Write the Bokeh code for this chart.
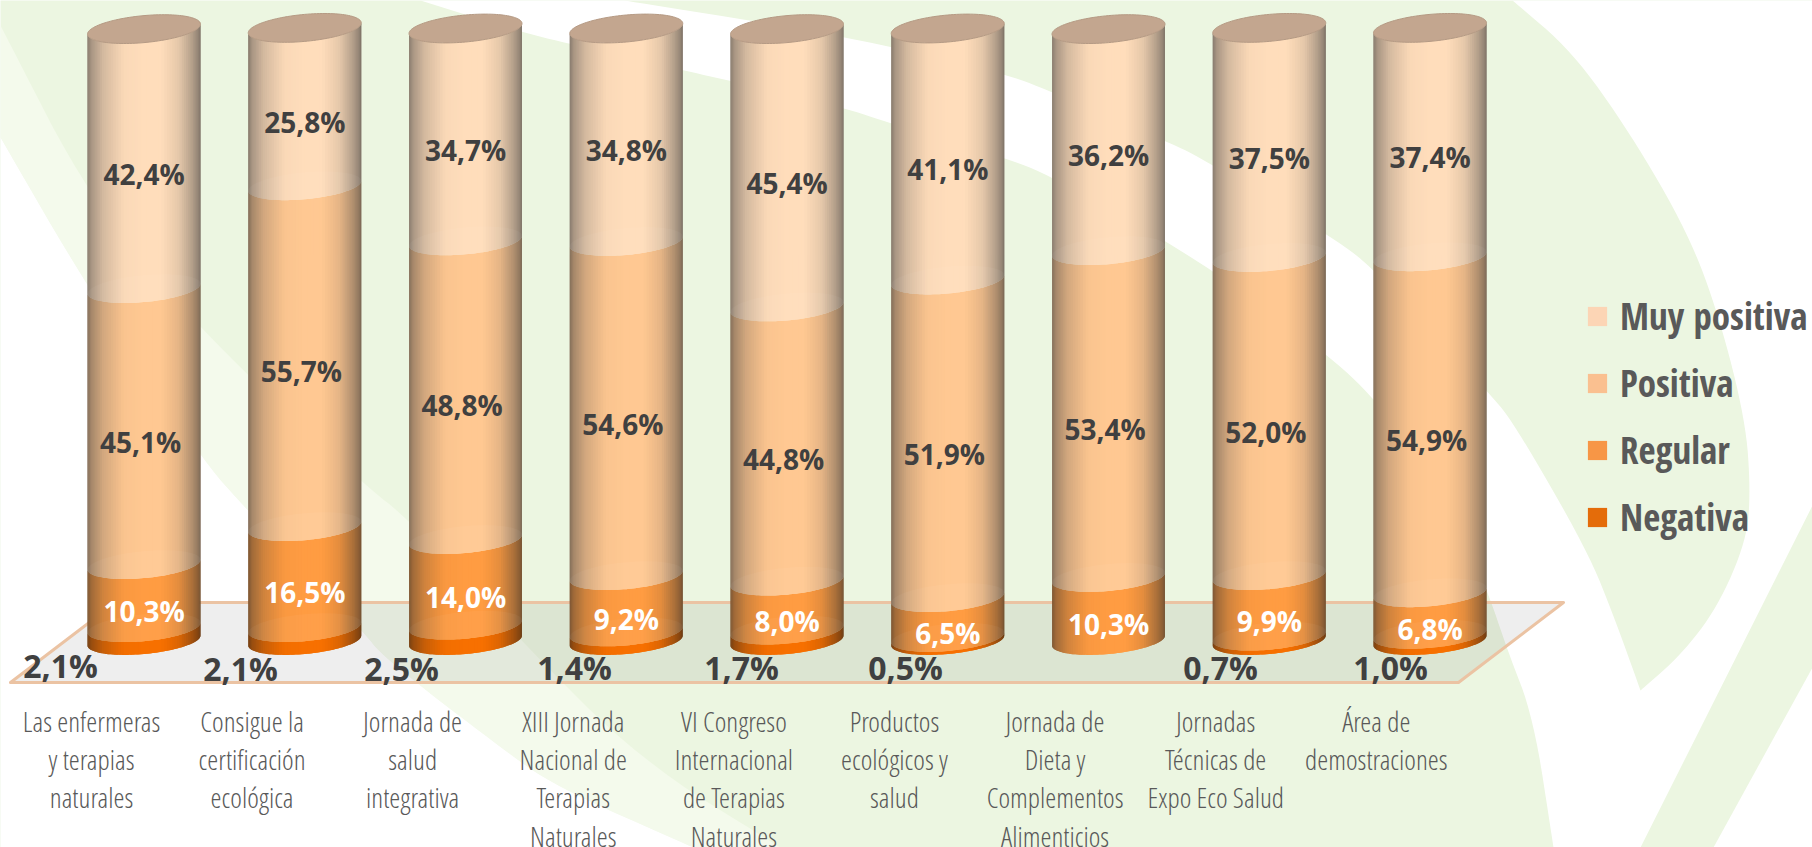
import math
from bokeh.plotting import figure
from bokeh.embed import file_html
from bokeh.resources import INLINE
from bokeh.core.properties import value
from bokeh.models import Range1d, Legend, LegendItem

# ---- data ----
categories = [
    ["Las enfermeras", "y terapias", "naturales"],
    ["Consigue la", "certificación", "ecológica"],
    ["Jornada de", "salud", "integrativa"],
    ["XIII Jornada", "Nacional de", "Terapias", "Naturales"],
    ["VI Congreso", "Internacional", "de Terapias", "Naturales"],
    ["Productos", "ecológicos y", "salud"],
    ["Jornada de", "Dieta y", "Complementos", "Alimenticios"],
    ["Jornadas", "Técnicas de", "Expo Eco Salud"],
    ["Área de", "demostraciones"],
]
negativa = [2.1, 2.1, 2.5, 1.4, 1.7, 0.5, 0.0, 0.7, 1.0]
regular = [10.3, 16.5, 14.0, 9.2, 8.0, 6.5, 10.3, 9.9, 6.8]
positiva = [45.1, 55.7, 48.8, 54.6, 44.8, 51.9, 53.4, 52.0, 54.9]
muy_positiva = [42.4, 25.8, 34.7, 34.8, 45.4, 41.1, 36.2, 37.5, 37.4]
series_names = ["Negativa", "Regular", "Positiva", "Muy positiva"]
series_values = [negativa, regular, positiva, muy_positiva]

# ---- style and layout ----
WIDTH, HEIGHT = 1812, 847
PX_X0, PX_DX, HALF = 143.5, 160.75, 56.5     # cylinder centre / pitch / half width (page px)
PX_Y0, PX_PER_PCT = 640.0, 6.12
TILT, MINOR = 5.0, 13.5
GREEN, PALE = "#ECF6E1", "#F4FAEC"
legend_colors = ["#E46C0A", "#F79646", "#FAC090", "#FCD5B5"]
core_colors = [(247, 112, 0), (255, 156, 66), (255, 200, 146), (255, 221, 187)]
TEXT_DARK, TEXT_AXIS, TEXT_LEGEND = "#404040", "#595959", "#595959"
neg_label_px = [(60, 665), (240, 668), (401, 668), (574, 667), (741, 667), (905, 667), None, (1220, 667), (1390, 667)]


def to_x(px):
    return (px - PX_X0) / PX_DX


def to_y(px):
    return (PX_Y0 - px) / PX_PER_PCT


p = figure(width=WIDTH, height=HEIGHT, output_backend="svg", toolbar_location=None,
           x_range=Range1d(to_x(0), to_x(WIDTH)), y_range=Range1d(to_y(HEIGHT), to_y(0)),
           min_border=0, min_border_left=0, min_border_right=0, min_border_top=0, min_border_bottom=0,
           outline_line_color=None, background_fill_color=GREEN, border_fill_color="white")
p.axis.visible = False
p.grid.visible = False
p.extra_x_ranges["px"] = Range1d(0, WIDTH)
p.extra_y_ranges["px"] = Range1d(HEIGHT, 0)


def smooth(points, rounds=3):
    # corner cutting along an open edge; its two end points stay where they are
    for _ in range(rounds):
        out = [points[0]]
        for (a, b), (c, d) in zip(points, points[1:]):
            out.append((a * .75 + c * .25, b * .75 + d * .25))
            out.append((a * .25 + c * .75, b * .25 + d * .75))
        out.append(points[-1])
        points = out
    return points


def deco(points, color, alpha=1.0, **kw):
    p.patch([a for a, _ in points], [b for _, b in points], fill_color=color, fill_alpha=alpha,
            line_color=None, x_range_name="px", y_range_name="px", **kw)


# background leaf shapes
white_edge = smooth([(0, 137), (87, 287), (200, 457), (247, 510), (362, 630), (383, 657), (500, 747), (555, 786), (693, 847)])
pale_edge = smooth([(0, 25), (90, 200), (200, 330), (362, 483), (410, 520), (520, 640), (640, 760), (780, 847)])
deco(pale_edge + list(reversed(white_edge)), PALE)
deco(white_edge + [(0, 847)], "white")
band_lower = smooth([(420, 0), (522, 32), (568, 43), (683, 70), (729, 80), (843, 107), (890, 123), (1004, 157), (1050, 175),
                     (1200, 260), (1326, 353), (1373, 397), (1440, 480), (1487, 590), (1507, 650), (1533, 717), (1553, 847)])
leaf_outer = smooth([(1512, 0), (1571, 50), (1630, 133), (1688, 233), (1719, 317), (1745, 420), (1750, 490), (1746, 540),
                     (1717, 607), (1680, 655), (1640, 690)])
band_upper = smooth([(1640, 690), (1615, 620), (1587, 550), (1512, 420), (1486, 390), (1373, 267), (1326, 233), (1200, 157),
                     (1164, 140), (1048, 90), (1004, 73), (843, 35), (624, 0)])
deco(band_lower + [(1640, 847), (1812, 505), (1812, 0)] + leaf_outer + band_upper, "white")
deco([(1812, 667), (1713, 847), (1812, 847)], "white")

# floor
floor = [(10, 682), (1458, 682), (1563, 602), (115, 602)]
p.patch([a for a, _ in floor], [b for _, b in floor], fill_color="black", fill_alpha=0.065,
        line_color="#EBC3A3", line_width=3, line_join="round", x_range_name="px", y_range_name="px")

# shading across a cylinder
shade_stops = [(-1.0, .55), (-.93, .68), (-.72, .84), (-.35, .98), (0.0, 1.0), (.3, 1.0), (.62, .90), (.85, .72), (.96, .60), (1.0, .50)]


def shade(u):
    for (a, sa), (b, sb) in zip(shade_stops, shade_stops[1:]):
        if a <= u <= b:
            return sa + (sb - sa) * (u - a) / (b - a)
    return 1.0


def tint(rgb, s):
    grey = sum(rgb) / 3
    k = max(0.0, (0.95 - s) * 0.7)
    c = [int(round((ch * (1 - k) + grey * k) * s)) for ch in rgb]
    return "#%02X%02X%02X" % tuple(min(255, v) for v in c)


def front(u):
    return -TILT * u + MINOR * math.sqrt(max(0.0, 1 - u * u))


def back(u):
    return -TILT * u - MINOR * math.sqrt(max(0.0, 1 - u * u))


N = 60
us = [-math.cos(math.pi * k / N) for k in range(N + 1)]
half_x = HALF / PX_DX

cum = [[0.0] * 5 for _ in categories]
for i in range(len(categories)):
    for s, vals in enumerate(series_values):
        cum[i][s + 1] = cum[i][s] + vals[i]

# each strip runs under the next one, so no seam shows between them
for s, name in enumerate(series_names):
    xs, ys, cols = [], [], []
    for i in range(len(categories)):
        lo, hi = cum[i][s], cum[i][s + 1]
        if series_values[s][i] <= 0:
            continue
        for k in range(N):
            u0, um, u1 = us[k], us[k + 1], us[min(k + 2, N)]
            xs.append([i + u * half_x for u in (u0, um, u1, u1, um, u0)])
            ys.append([hi - front(u0) / PX_PER_PCT, hi - front(um) / PX_PER_PCT, hi - front(u1) / PX_PER_PCT,
                       lo - front(u1) / PX_PER_PCT, lo - front(um) / PX_PER_PCT, lo - front(u0) / PX_PER_PCT])
            cols.append(tint(core_colors[s], shade((u0 + um) / 2)))
    p.patches(xs, ys, fill_color=cols, line_color=None)

# lighter translucent lid of each lower segment, seen through the one above it
for s in range(1, 4):
    xs, ys = [], []
    for i in range(len(categories)):
        if cum[i][s] <= 0:
            continue
        xs.append([i + u * half_x for u in us] + [i + u * half_x for u in reversed(us)])
        ys.append([cum[i][s] - front(u) / PX_PER_PCT for u in us] + [cum[i][s] - back(u) / PX_PER_PCT for u in reversed(us)])
    p.patches(xs, ys, fill_color="white", fill_alpha=0.04, line_color=None)

# top lids
lx, ly = [], []
for i in range(len(categories)):
    lx.append([i + u * half_x for u in us] + [i + u * half_x for u in reversed(us)])
    ly.append([cum[i][4] - front(u) / PX_PER_PCT for u in us] + [cum[i][4] - back(u) / PX_PER_PCT for u in reversed(us)])
p.patches(lx, ly, fill_color="#C3A68F", line_color="#B59A84", line_width=1)

# value labels
font = value("Open Sans")
for s, color in ((1, "white"), (2, TEXT_DARK), (3, TEXT_DARK)):
    lx = [i - (3.5 / PX_DX if s == 2 else 0) for i in range(len(categories))]
    ly = [(cum[i][s] + cum[i][s + 1]) / 2 for i in range(len(categories))]
    txt = [f"{v:.1f}%".replace(".", ",") for v in series_values[s]]
    p.text(lx, ly, text=txt, text_font=font, text_font_style="bold", text_font_size="28px",
           text_color=color, text_align="center", text_baseline="middle", y_offset=15)

nx, ny, nt = [], [], []
for v, pos in zip(negativa, neg_label_px):
    if pos is not None and v > 0:
        nx.append(pos[0])
        ny.append(pos[1])
        nt.append(f"{v:.1f}%".replace(".", ","))
p.text(nx, ny, text=nt, text_font=font, text_font_style="bold", text_font_size="32px", text_color=TEXT_DARK,
       text_align="center", text_baseline="middle", x_range_name="px", y_range_name="px")

# category labels
cx, cy, ct = [], [], []
for i, lines in enumerate(categories):
    for j, line in enumerate(lines):
        cx.append(91 + 160.6 * i)
        cy.append(720 + 38.4 * j)
        ct.append(line)
p.text(cx, cy, text=ct, text_font=value("Open Sans Condensed Light"), text_font_size="28px", text_color=TEXT_AXIS,
       text_align="center", text_baseline="middle", x_range_name="px", y_range_name="px")

# legend
items = []
for s in (3, 2, 1, 0):
    r = p.quad(left=[-50], right=[-49], top=[-50], bottom=[-51], fill_color=legend_colors[s], line_color=None)
    items.append(LegendItem(label=series_names[s], renderers=[r]))
legend = Legend(items=items, location=(1585, 847 - 542), orientation="vertical", padding=0, margin=0,
                spacing=16, glyph_width=24, glyph_height=24, label_standoff=11,
                label_text_font="Open Sans Condensed", label_text_font_style="bold", label_text_font_size="37px",
                label_text_color=TEXT_LEGEND, background_fill_alpha=0, border_line_color=None)
p.add_layout(legend)

open("out.html", "w").write(file_html(p, INLINE))
